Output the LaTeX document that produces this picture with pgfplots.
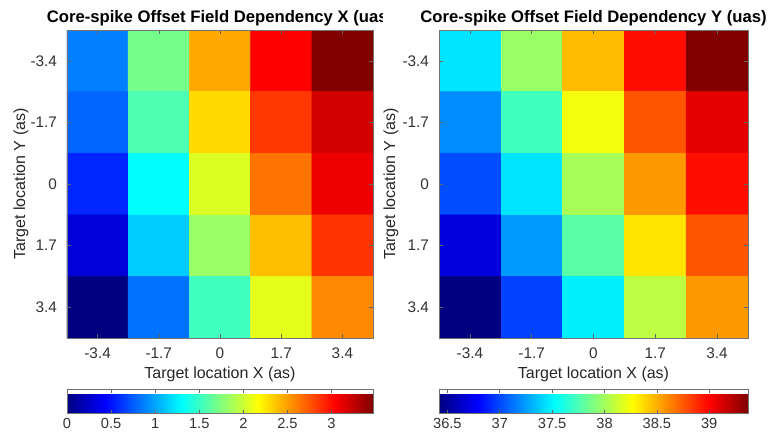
\documentclass[border=0pt]{standalone}
\usepackage{fontspec}
\setmainfont{Liberation Sans}
\usepackage{pgfplots}
\pgfplotsset{compat=1.18}
\usepackage{pgfplotstable}

\pgfplotstableread{
x y c
-3.4 -3.4 0.87
-1.7 -3.4 1.70
0 -3.4 2.46
1.7 -3.4 3.04
3.4 -3.4 3.47
-3.4 -1.7 0.78
-1.7 -1.7 1.56
0 -1.7 2.29
1.7 -1.7 2.85
3.4 -1.7 3.19
-3.4 0 0.56
-1.7 0 1.30
0 0 2.05
1.7 0 2.64
3.4 0 3.09
-3.4 1.7 0.30
-1.7 1.7 1.13
0 1.7 1.82
1.7 1.7 2.39
3.4 1.7 2.86
-3.4 3.4 0.00
-1.7 3.4 0.82
0 3.4 1.52
1.7 3.4 2.08
3.4 3.4 2.57
}\dataX

\pgfplotstableread{
x y c
-3.4 -3.4 37.45
-1.7 -3.4 37.97
0 -3.4 38.46
1.7 -3.4 38.96
3.4 -3.4 39.37
-3.4 -1.7 37.19
-1.7 -1.7 37.71
0 -1.7 38.23
1.7 -1.7 38.75
3.4 -1.7 39.08
-3.4 0 37.01
-1.7 0 37.45
0 0 38.01
1.7 0 38.56
3.4 0 38.96
-3.4 1.7 36.69
-1.7 1.7 37.23
0 1.7 37.78
1.7 1.7 38.34
3.4 1.7 38.75
-3.4 3.4 36.42
-1.7 3.4 36.98
0 3.4 37.48
1.7 3.4 38.07
3.4 3.4 38.56
}\dataY

\pgfplotsset{
  hm/.style={
    scale only axis,
    height=231pt,
    y dir=reverse,
    xmin=-4.25, xmax=4.25, ymin=-4.25, ymax=4.25,
    enlargelimits=false,
    xtick={-3.4,-1.7,0,1.7,3.4},
    ytick={-3.4,-1.7,0,1.7,3.4},
    xticklabels={-3.4,-1.7,0,1.7,3.4},
    yticklabels={-3.4,-1.7,0,1.7,3.4},
    tick align=inside,
    major tick length=3pt,
    axis line style={draw=black!55, line width=0.4pt},
    tick style={draw=black!60, line width=0.4pt},
    axis on top,
    colormap/jet,
    xticklabel style={font=\fontsize{11.5}{13}\selectfont, text=black!80, yshift=-4pt},
    yticklabel style={font=\fontsize{11.5}{13}\selectfont, text=black!80, xshift=-4pt},
    title style={font=\bfseries\fontsize{12.5}{15}\selectfont, at={(axis description cs:0.5,1)}, anchor=center, yshift=2.5pt},
    every axis x label/.style={at={(axis description cs:0.5,0)}, anchor=center, yshift=-27pt, font=\fontsize{12}{14}\selectfont, text=black!85},
    every axis y label/.style={at={(axis description cs:0,0.5)}, anchor=center, rotate=90, font=\fontsize{12}{14}\selectfont, text=black!85},
    xlabel={Target location X (as)},
    ylabel={Target location Y (as)},
    colorbar horizontal,
  },
  cb/.style={
    at={(parent axis.south west)}, anchor=north west, yshift=-30pt,
    scale only axis,
    height=18pt,
    title={}, xlabel={}, ylabel={},
    y dir=normal,
    tick align=inside,
    major tick length=2.5pt,
    xticklabel pos=lower,
    axis line style={draw=black!55, line width=0.4pt},
    tick style={draw=black!60, line width=0.4pt},
    xticklabel style={font=\fontsize{11}{13}\selectfont, text=black!80, yshift=0pt},
  }
}

\begin{document}
\begin{tikzpicture}
\path[use as bounding box] (0,0) rectangle (576.75pt,332.25pt);

\begin{axis}[hm,
  at={(50.25pt,78.75pt)}, anchor=south west,
  width=229.5pt,
  title={Core-spike Offset Field Dependency X (uas)},
  ylabel style={at={(axis description cs:-0.15,0.5)}},
  point meta min=0, point meta max=3.47,
  colorbar style={cb,
    width=229.5pt,
    xtick={0,0.5,1,1.5,2,2.5,3},
    xticklabels={0,0.5,1,1.5,2,2.5,3}},
]
\addplot[matrix plot*, mesh/cols=5, point meta=explicit] table[x=x, y=y, meta=c] {\dataX};
\end{axis}

\fill[white] (287.6pt,311pt) rectangle (310pt,332.25pt);

\begin{axis}[hm,
  at={(329.25pt,78.75pt)}, anchor=south west,
  width=231.75pt,
  title={Core-spike Offset Field Dependency Y (uas)},
  ylabel style={at={(axis description cs:-0.155,0.5)}},
  point meta min=36.42, point meta max=39.37,
  colorbar style={cb,
    width=231.75pt,
    xtick={36.5,37,37.5,38,38.5,39},
    xticklabels={36.5,37,37.5,38,38.5,39}},
]
\addplot[matrix plot*, mesh/cols=5, point meta=explicit] table[x=x, y=y, meta=c] {\dataY};
\end{axis}
\end{tikzpicture}
\end{document}
